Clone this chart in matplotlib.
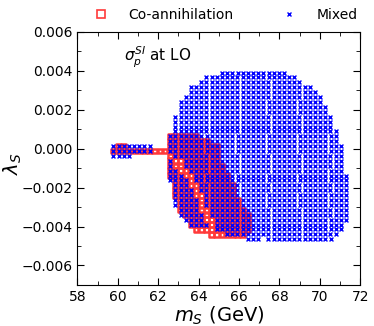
import numpy as np
import matplotlib
matplotlib.use("Agg")
import matplotlib.pyplot as plt
from matplotlib.lines import Line2D
from matplotlib.ticker import MultipleLocator, FuncFormatter

# scan step in m_S (GeV), read from the point spacing
dm = 0.256

# lambda_S of each scan row, top to bottom
lam_rows = [0.00391, 0.00366, 0.00341, 0.00316, 0.00290, 0.00265, 0.00240,
            0.00215, 0.00190, 0.00164, 0.00139, 0.00114, 0.00089, 0.00064,
            0.00038, 0.00013, -0.00012, -0.00037, -0.00062, -0.00088,
            -0.00113, -0.00138, -0.00163, -0.00188, -0.00214, -0.00239,
            -0.00264, -0.00289, -0.00314, -0.00340, -0.00365, -0.00390,
            -0.00415, -0.00440, -0.00466]

# "Mixed" points: m_S ranges (GeV) covered on each row
mixed_segments = [
    [(65.16, 68.23)],
    [(64.39, 68.74)],
    [(64.13, 69.00)],
    [(63.62, 69.51)],
    [(63.62, 69.76)],
    [(63.36, 70.02)],
    [(63.11, 70.02)],
    [(63.11, 70.28)],
    [(63.11, 70.28)],
    [(62.85, 70.53)],
    [(62.85, 70.53)],
    [(62.85, 70.53)],
    [(62.85, 70.79)],
    [(62.60, 70.79)],
    [(62.60, 70.79)],
    [(59.78, 61.57), (62.60, 71.04)],
    [(59.78, 61.57), (62.60, 71.04)],
    [(59.78, 60.55), (62.85, 71.04)],
    [(62.60, 62.60), (63.36, 71.04)],
    [(62.60, 62.60), (63.36, 71.04)],
    [(62.60, 62.85), (63.62, 71.04)],
    [(62.60, 63.11), (63.88, 71.30)],
    [(62.60, 63.36), (63.88, 71.30)],
    [(62.85, 63.36), (64.13, 71.30)],
    [(62.85, 63.62), (64.13, 71.30)],
    [(62.85, 63.62), (64.39, 71.30)],
    [(62.85, 63.88), (64.39, 71.30)],
    [(62.85, 63.88), (64.39, 71.30)],
    [(63.11, 63.88), (64.64, 71.30)],
    [(63.11, 64.13), (64.64, 71.30)],
    [(63.36, 64.13), (64.90, 71.30)],
    [(63.62, 64.39), (64.90, 71.04)],
    [(64.90, 71.04)],
    [(65.41, 70.79)],
    [(66.44, 66.95), (67.46, 70.53)],
]

# "Co-annihilation" points: rows where they appear
coann_lam = [0.00064, 0.00038, 0.00013, -0.00012, -0.00037, -0.00062,
             -0.00088, -0.00113, -0.00138, -0.00163, -0.00188, -0.00214,
             -0.00239, -0.00264, -0.00289, -0.00314, -0.00340, -0.00365,
             -0.00390, -0.00415, -0.00440]
coann_segments = [
    [(62.60, 63.88)],
    [(62.60, 64.39)],
    [(60.04, 60.29), (62.60, 64.90)],
    [(59.78, 64.90)],
    [(62.60, 64.90)],
    [(62.60, 64.90)],
    [(62.60, 65.16)],
    [(62.60, 65.16)],
    [(62.60, 65.41)],
    [(62.85, 65.41)],
    [(62.85, 65.67)],
    [(62.85, 65.67)],
    [(62.85, 65.67)],
    [(63.11, 65.92)],
    [(63.11, 65.92)],
    [(63.11, 66.18)],
    [(63.36, 66.44)],
    [(63.62, 66.44)],
    [(63.62, 66.44)],
    [(63.88, 66.44)],
    [(64.64, 66.18)],
]


def expand(lams, segments):
    xs, ys = [], []
    for lam, row in zip(lams, segments):
        for a, b in row:
            m = np.arange(a, b + dm / 2, dm)
            xs.extend(m)
            ys.extend([lam] * len(m))
    return np.array(xs), np.array(ys)


x_mix, y_mix = expand(lam_rows, mixed_segments)
x_co, y_co = expand(coann_lam, coann_segments)

fig = plt.figure(figsize=(3.74, 3.26), dpi=100)
ax = fig.add_axes([0.207, 0.126, 0.756, 0.776])

ax.scatter(x_co, y_co, marker='s', s=11, facecolors='none',
           edgecolors='#ff3a3a', linewidths=1.8, zorder=2)
ax.scatter(x_mix, y_mix, marker='x', s=8, color='blue', linewidths=1.0,
           zorder=3)

ax.set_xlim(58, 72)
ax.set_ylim(-0.007, 0.006)
ax.xaxis.set_major_locator(MultipleLocator(2))
ax.xaxis.set_minor_locator(MultipleLocator(1))
ax.yaxis.set_major_locator(MultipleLocator(0.002))
ax.yaxis.set_minor_locator(MultipleLocator(0.001))
ax.yaxis.set_major_formatter(
    FuncFormatter(lambda v, p: f"{v:.3f}".replace('-', '\u2212')))
ax.tick_params(which='both', direction='in', top=True, right=True,
               labelsize=10)
ax.tick_params(which='major', length=5)
ax.tick_params(which='minor', length=3)

ax.set_xlabel(r'$m_S$ (GeV)', fontsize=14, labelpad=1)
ax.set_ylabel(r'$\lambda_S$', fontsize=14)
ax.yaxis.set_label_coords(-0.19, 0.48)
ax.text(60.3, 0.0047, r'$\sigma_p^{SI}$ at LO', fontsize=11, va='center')

handles = [
    Line2D([], [], ls='none', marker='s', ms=6, mfc='none', mec='#ff3a3a',
           mew=1.2, label='Co-annihilation'),
    Line2D([], [], ls='none', marker='x', ms=3.5, color='blue', mew=1.0,
           label='Mixed'),
]
fig.legend(handles=handles, loc='center', bbox_to_anchor=(0.595, 0.954),
           ncol=2, frameon=False, fontsize=10, columnspacing=3.0,
           handletextpad=1.0)

fig.savefig('out.png', dpi=100)
